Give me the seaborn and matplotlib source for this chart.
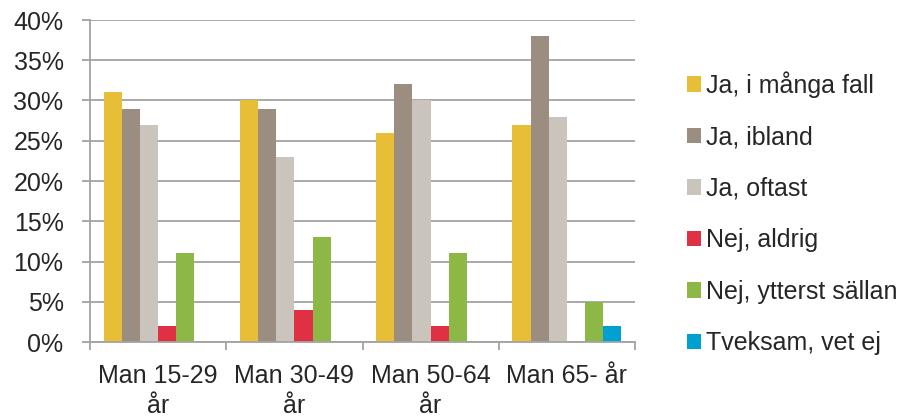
import matplotlib.pyplot as plt
import seaborn as sns
import pandas as pd
from matplotlib.ticker import FixedLocator, PercentFormatter

sns.set_theme(style="white")
plt.rcParams['font.family'] = ['Liberation Sans', 'DejaVu Sans']

# Data
groups = ["Man 15-29\når", "Man 30-49\når", "Man 50-64\når", "Man 65- år"]
answers = ["Ja, i många fall", "Ja, ibland", "Ja, oftast",
           "Nej, aldrig", "Nej, ytterst sällan", "Tveksam, vet ej"]
ja_manga = [31, 30, 26, 27]
ja_ibland = [29, 29, 32, 38]
ja_oftast = [27, 23, 30, 28]
nej_aldrig = [2, 4, 2, 0]
nej_sallan = [11, 13, 11, 5]
tveksam = [0, 0, 0, 2]
colors = ["#E8BE37", "#9B8E80", "#CBC4BD", "#E03043", "#8DB846", "#00A0D0"]

series = [ja_manga, ja_ibland, ja_oftast, nej_aldrig, nej_sallan, tveksam]
rows = []
for name, vals in zip(answers, series):
    for g, v in zip(groups, vals):
        rows.append({"grupp": g, "svar": name, "andel": v})
df = pd.DataFrame(rows)

fig = plt.figure(figsize=(9.14, 4.19), dpi=100)
ax = fig.add_axes([90 / 914, 1 - 342 / 419, 545 / 914, 322 / 419])

sns.barplot(data=df, x="grupp", y="andel", hue="svar", order=groups,
            hue_order=answers, palette=colors, width=0.8, saturation=1,
            linewidth=0, ax=ax)

ax.set_ylim(0, 40)
ax.set_xlim(-0.5, 3.5)
ax.set_yticks(range(0, 41, 5))
ax.yaxis.set_major_formatter(PercentFormatter(decimals=0))
ax.grid(axis="y", color="#A3A3A3", linewidth=1.3)
ax.set_axisbelow(True)
ax.set_xlabel("")
ax.set_ylabel("")

for side in ["top", "right"]:
    ax.spines[side].set_visible(False)
for side in ["left", "bottom"]:
    ax.spines[side].set_color("#A3A3A3")
    ax.spines[side].set_linewidth(1.3)

ax.tick_params(axis="y", direction="out", length=6, color="#A3A3A3",
               width=1.3, labelsize=18, left=True, pad=13)
ax.set_xticks(range(len(groups)))
ax.set_xticklabels(groups, linespacing=1.3)
ax.tick_params(axis="x", which="major", length=0, labelsize=18, pad=16)
ax.xaxis.set_minor_locator(FixedLocator([-0.5, 0.5, 1.5, 2.5, 3.5]))
ax.tick_params(axis="x", which="minor", direction="out", length=6,
               color="#A3A3A3", width=1.3, bottom=True)

ax.legend(loc="center left", bbox_to_anchor=(1.073, 0.40), frameon=False,
          fontsize=18, handlelength=0.56, handleheight=0.56,
          handletextpad=0.2, labelspacing=1.1, borderpad=0)

plt.savefig("out.png", dpi=100)
